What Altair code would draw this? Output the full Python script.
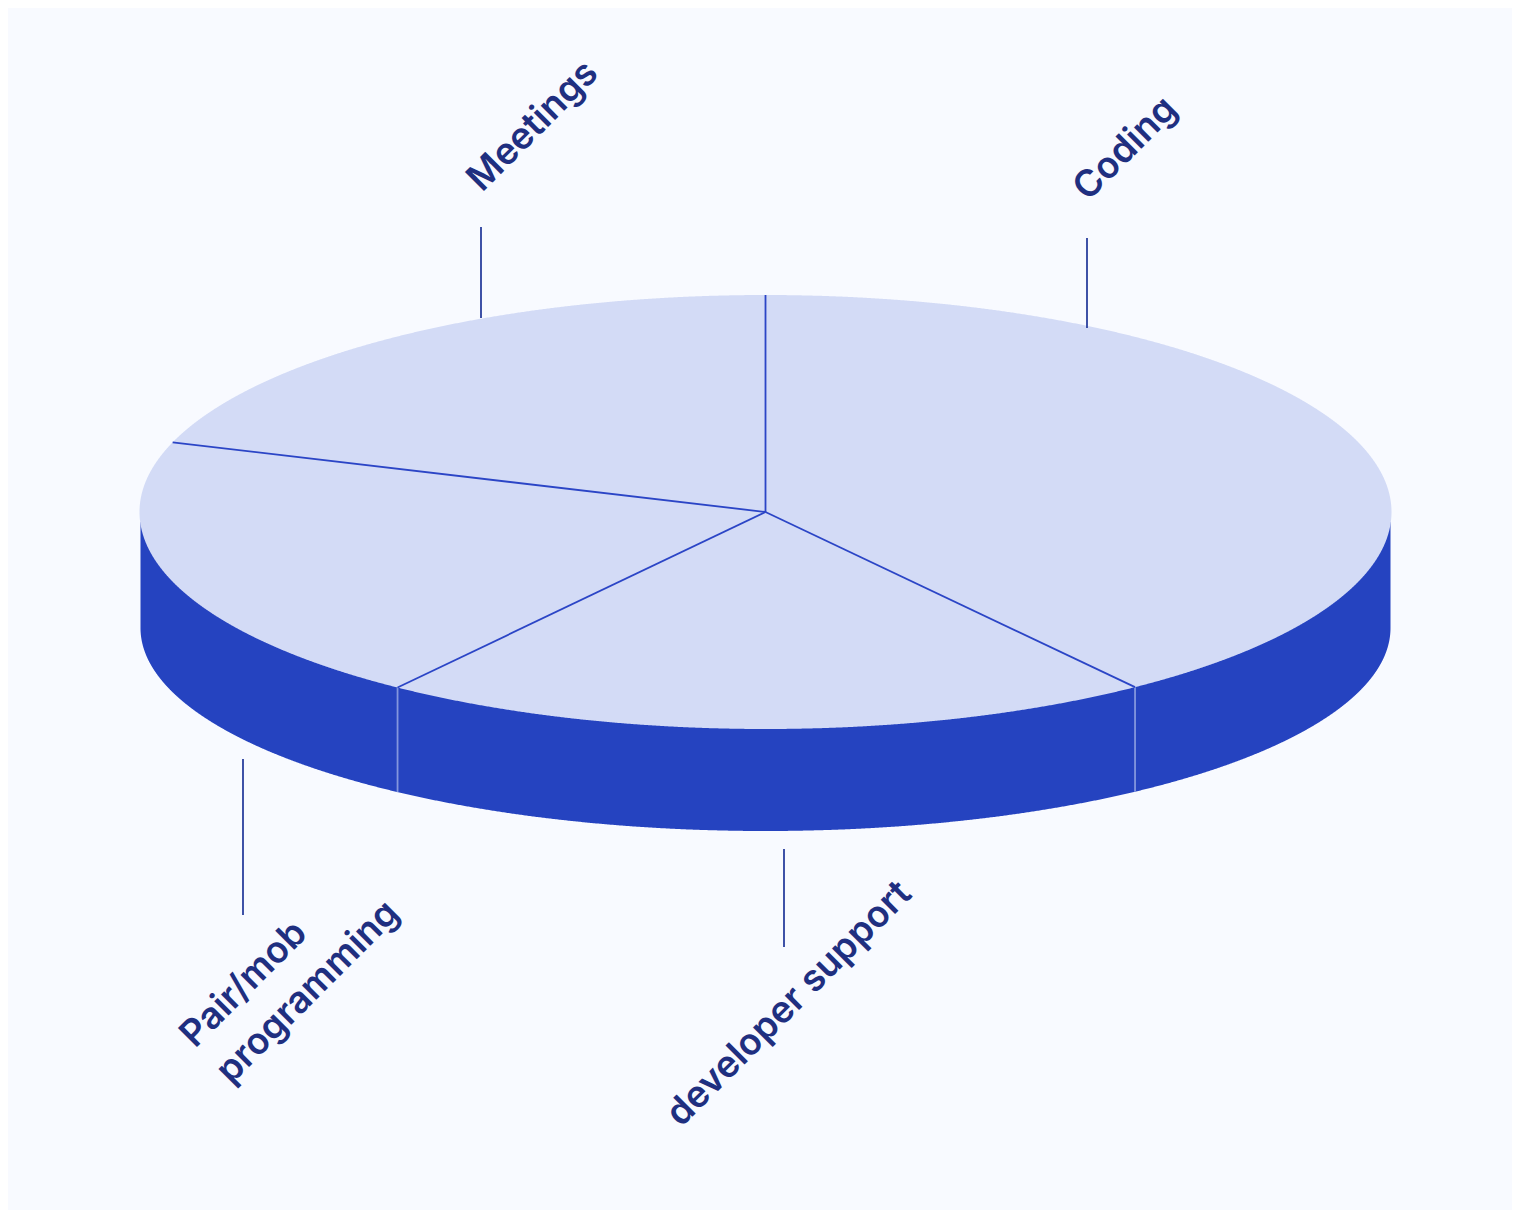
import math
import altair as alt
import numpy as np
import pandas as pd

categories = ["Coding", "developer support", "Pair/mob programming", "Meetings"]
shares = [39.95, 20.05, 20.2, 19.8]

label_lines = ["Coding", "Meetings", "Pair/mob", "programming", "developer support"]
label_x = [1088, 482, 195, 231, 681]
label_y = [202, 193, 1049, 1085, 1128]

leader_x = [1087, 481, 243, 784]
leader_top = [238, 227, 759, 849]
leader_bottom = [328, 318, 915, 947]

CX, CY, RX, RY = 765.5, 512, 626, 217
BX, BCY, BRX, BRY = 765.5, 628, 625, 203
BG, TOP, SIDE, EDGE, SIDE_EDGE, INK = "#F8FAFF", "#D3DBF6", "#2543C0", "#2B45C6", "#8396DE", "#1F2F80"

W, H = 1504, 1202
xs = alt.Scale(domain=[8, 8 + W], nice=False, zero=False)
ys = alt.Scale(domain=[8 + H, 8], nice=False, zero=False)
X = lambda f="x": alt.X(f"{f}:Q", scale=xs, axis=None)
Y = lambda f="y": alt.Y(f"{f}:Q", scale=ys, axis=None)

t = np.linspace(0, math.pi, 1441)
top_x = CX - RX * np.cos(t)
top_half = RY * np.sin(t)
top_df = pd.DataFrame({"x": top_x, "y": CY - top_half, "y2": CY + top_half})

bot_x = BX - BRX * np.cos(t)
side_df = pd.DataFrame({"x": bot_x, "y": np.full_like(bot_x, CY + 10.0), "y2": BCY + BRY * np.sin(t)})

cum = np.cumsum([0] + shares[:-1]) / sum(shares) * 2 * math.pi
rim_x = CX + RX * np.sin(cum)
rim_y = CY - RY * np.cos(cum)
spoke_df = pd.DataFrame({"x": np.full_like(rim_x, CX), "y": np.full_like(rim_x, CY), "x2": rim_x, "y2": rim_y})

front = np.cos(cum) < 0
front_x = rim_x[front]
front_bottom = BCY + BRY * np.sqrt(1 - ((front_x - BX) / BRX) ** 2)
side_edge_df = pd.DataFrame({"x": front_x, "y": rim_y[front], "y2": front_bottom})

leader_df = pd.DataFrame({"x": leader_x, "y": leader_top, "y2": leader_bottom})
label_df = pd.DataFrame({"x": label_x, "y": label_y, "t": label_lines})

side = alt.Chart(side_df).mark_area(color=SIDE, interpolate="linear").encode(x=X(), y=Y(), y2="y2:Q")
top = alt.Chart(top_df).mark_area(color=TOP, interpolate="linear").encode(x=X(), y=Y(), y2="y2:Q")
spokes = alt.Chart(spoke_df).mark_rule(color=EDGE, strokeWidth=1.8).encode(x=X(), y=Y(), x2="x2:Q", y2="y2:Q")
side_edges = alt.Chart(side_edge_df).mark_rule(color=SIDE_EDGE, strokeWidth=1.8).encode(x=X(), y=Y(), y2="y2:Q")
leaders = alt.Chart(leader_df).mark_rule(color="#2A3F9E", strokeWidth=1.8).encode(x=X(), y=Y(), y2="y2:Q")
labels = alt.Chart(label_df).mark_text(
    font="Inter", fontSize=37, fontWeight=600, color=INK, angle=315, align="left", baseline="alphabetic"
).encode(x=X(), y=Y(), text="t:N")

chart = (
    alt.layer(side, top, side_edges, spokes, leaders, labels)
    .properties(width=W, height=H, background=BG, padding=0, autosize=alt.AutoSizeParams(type="none"))
    .configure_view(stroke=None)
)

chart.save("out.html", embed_options={"renderer": "svg", "actions": False})
